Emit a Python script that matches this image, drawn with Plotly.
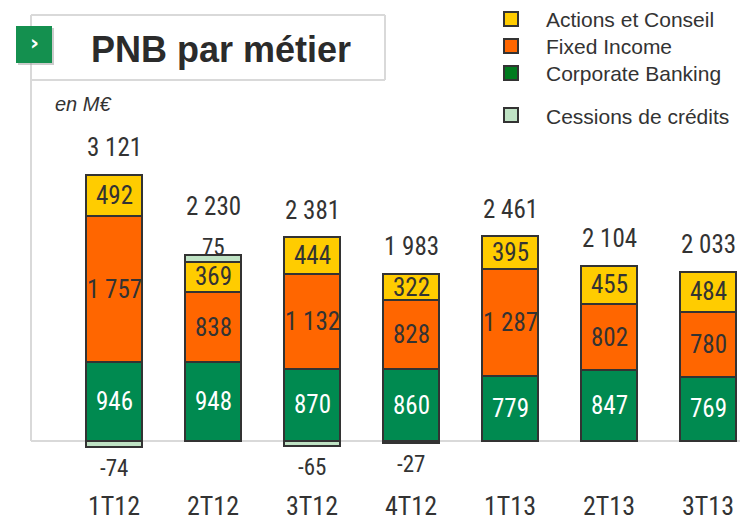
import plotly.graph_objects as go

categories = ["1T12", "2T12", "3T12", "4T12", "1T13", "2T13", "3T13"]
corporate_banking = [946, 948, 870, 860, 779, 847, 769]
fixed_income = [1757, 838, 1132, 828, 1287, 802, 780]
actions_conseil = [492, 369, 444, 322, 395, 455, 484]
cessions = [-74, 75, -65, -27, None, None, None]
totals = [3121, 2230, 2381, 1983, 2461, 2104, 2033]

series_names = ["Corporate Banking", "Fixed Income", "Actions et Conseil", "Cessions de crédits"]
colors = {"Corporate Banking": "#008A50", "Fixed Income": "#FF6600",
          "Actions et Conseil": "#FFCC00", "Cessions de crédits": "#BFE3C4"}
legend_colors = {"Actions et Conseil": "#FFCC00", "Fixed Income": "#FF6600",
                 "Corporate Banking": "#007A1E", "Cessions de crédits": "#BFE3C4"}

W, H = 742, 524
FONT = "Roboto Condensed, Liberation Sans Narrow, sans-serif"
SANS = "Liberation Sans, Arial, sans-serif"
TXT = "#333333"

def fmt(v):
    return f"{v:,}".replace(",", " ")

x = list(range(len(categories)))
fig = go.Figure()
for name, vals in zip(series_names, [corporate_banking, fixed_income, actions_conseil, cessions]):
    fig.add_trace(go.Bar(x=x, y=vals, name=name, width=0.566,
                         marker=dict(color=colors[name], line=dict(color="#333333", width=2)),
                         showlegend=False, hoverinfo="skip"))

ann = []
def A(**kw):
    d = dict(showarrow=False, xanchor="center", yanchor="middle")
    d.update(kw)
    ann.append(d)

for i in x:
    base = 0
    for vals, col in [(corporate_banking, "white"), (fixed_income, TXT), (actions_conseil, TXT)]:
        v = vals[i]
        A(x=i, y=base + v / 2, xref="x", yref="y", text=fmt(v),
          font=dict(family=FONT, size=25, color=col))
        base += v
    c = cessions[i]
    top = base
    shift = 27
    if c is not None and c > 0:
        A(x=i, y=base + c, xref="x", yref="y", text=fmt(c), yshift=8,
          font=dict(family=FONT, size=23, color=TXT))
        top = base + c
        shift = 49
    elif c is not None and c < 0:
        A(x=i, y=c, xref="x", yref="y", text=fmt(c), yshift=-21,
          font=dict(family=FONT, size=23, color=TXT))
    A(x=i, y=top, xref="x", yref="y", text=fmt(totals[i]), yshift=shift,
      font=dict(family=FONT, size=25, color=TXT))
    A(x=i, y=0, xref="x", yref="y", text=categories[i], yshift=-65, borderpad=0,
      font=dict(family=FONT, size=26, color=TXT))

# title & subtitle & icon chevron
A(x=221 / W, y=1 - 50 / H, xref="paper", yref="paper", text="<b>PNB par métier</b>",
  font=dict(family=SANS, size=36, color="#2b2b2b"))
A(x=53 / W, y=1 - 104 / H, xref="paper", yref="paper", text="<i>en M€</i>", xanchor="left",
  font=dict(family=SANS, size=20, color="#333333"))
A(x=34 / W, y=1 - 43 / H, xref="paper", yref="paper", text="<b>›</b>",
  font=dict(family="DejaVu Sans", size=22, color="white"))

shapes = []
grey = "#D9D9D9"
for (x0, y0, x1, y1) in [(31, 15, 31, 441), (31, 15, 385, 15), (31, 80, 385, 80), (385, 15, 385, 80)]:
    shapes.append(dict(type="line", xref="paper", yref="paper", x0=x0 / W, x1=x1 / W,
                       y0=1 - y0 / H, y1=1 - y1 / H, line=dict(color=grey, width=2), layer="below"))
shapes.append(dict(type="line", xref="paper", yref="y", x0=31 / W, x1=740 / W, y0=0, y1=0,
                   line=dict(color=grey, width=2), layer="below"))
shapes.append(dict(type="rect", xref="paper", yref="paper", x0=18 / W, x1=54 / W, y0=1 - 28 / H, y1=1 - 65 / H,
                   fillcolor="#9a9a9a", line=dict(width=0), opacity=0.5))
shapes.append(dict(type="rect", xref="paper", yref="paper", x0=16 / W, x1=52 / W, y0=1 - 26 / H, y1=1 - 63 / H,
                   fillcolor="#14904F", line=dict(width=0)))

legend_items = [("Actions et Conseil", 19), ("Fixed Income", 46), ("Corporate Banking", 73), ("Cessions de crédits", 115)]
for name, yc in legend_items:
    shapes.append(dict(type="rect", xref="paper", yref="paper", x0=504 / W, x1=518 / W,
                       y0=1 - (yc - 7) / H, y1=1 - (yc + 7) / H,
                       fillcolor=legend_colors[name], line=dict(color="#333333", width=2)))
    A(x=544 / W, y=1 - (yc + 1) / H, xref="paper", yref="paper", text=name, xanchor="left",
      font=dict(family=SANS, size=21, color="#333333"))

upp = 12.01
fig.update_layout(
    width=W, height=H, margin=dict(l=0, r=0, t=0, b=0),
    paper_bgcolor="white", plot_bgcolor="white",
    barmode="relative", bargap=0,
    xaxis=dict(range=[-114 / 99, (W - 114) / 99], visible=False, fixedrange=True),
    yaxis=dict(range=[-(H - 441) * upp, 441 * upp], visible=False, fixedrange=True),
    annotations=ann, shapes=shapes, showlegend=False,
)
fig.write_html("out.html", config={"displayModeBar": False},
               post_script="document.body.style.margin='0';")
